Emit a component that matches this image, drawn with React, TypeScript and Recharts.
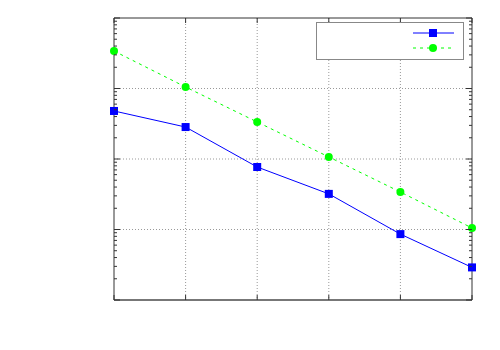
import { LineChart, Line, XAxis, YAxis, CartesianGrid } from "recharts";

const steps = [0, 1, 2, 3, 4, 5];
const seriesA = [480, 284, 77, 32, 8.6, 2.9];
const seriesB = [3400, 1050, 335, 107, 34, 10.5];
const decades = [1, 10, 100, 1000, 10000];

const data = steps.map((s, i) => ({ step: s, a: seriesA[i], b: seriesB[i] }));

const yTicks: number[] = [];
decades.slice(0, -1).forEach((d) => {
  for (let k = 1; k < 10; k++) yTicks.push(d * k);
});
yTicks.push(10000);

const isMajor = (v: number) => decades.includes(v);

const frame = "#333";

function yTick(side: "left" | "right") {
  return (props: any) => {
    const { x, y, payload } = props;
    const len = isMajor(payload.value) ? 6 : 3;
    const dir = side === "left" ? 1 : -1;
    return <line x1={x} y1={y} x2={x + dir * len} y2={y} stroke={frame} />;
  };
}

function xTick(side: "top" | "bottom") {
  return (props: any) => {
    const { x, y } = props;
    const dir = side === "top" ? 1 : -1;
    return <line x1={x} y1={y} x2={x} y2={y + dir * 5} stroke={frame} />;
  };
}

const SquareDot = (props: any) => {
  const { cx, cy } = props;
  if (cx == null || cy == null) return null;
  return <rect x={cx - 4} y={cy - 4} width={8} height={8} fill="#0000ff" />;
};

const CircleDot = (props: any) => {
  const { cx, cy } = props;
  if (cx == null || cy == null) return null;
  return <circle cx={cx} cy={cy} r={4} fill="#00ff00" />;
};

const LegendBox = () => (
  <svg width={148} height={38} style={{ display: "block" }}>
    <rect x={0.5} y={0.5} width={147} height={37} fill="#fff" stroke="#888" />
    <line x1={97} y1={11} x2={138} y2={11} stroke="#0000ff" />
    <rect x={113} y={7} width={8} height={8} fill="#0000ff" />
    <line x1={97} y1={26} x2={137} y2={26} stroke="#00ff00" strokeDasharray="3 4" />
    <circle cx={117} cy={26} r={4} fill="#00ff00" />
  </svg>
);

export default function App() {
  return (
    <div style={{ position: "absolute", left: 0, top: 0, width: 500, height: 350, background: "#fff" }}>
      <LineChart
        width={500}
        height={350}
        data={data}
        margin={{ top: 17, right: 27, bottom: 49, left: 113 }}
      >
        <CartesianGrid
          stroke="#999"
          strokeDasharray="1 2"
          horizontalValues={[10, 100, 1000]}
          verticalValues={[1, 2, 3, 4]}
        />
        <XAxis
          dataKey="step"
          type="number"
          domain={[0, 5]}
          ticks={steps}
          height={1}
          tickSize={0}
          tickMargin={0}
          tick={xTick("bottom")}
          tickLine={false}
          axisLine={{ stroke: "#777", strokeWidth: 2 }}
        />
        <XAxis
          xAxisId="top"
          orientation="top"
          dataKey="step"
          type="number"
          domain={[0, 5]}
          ticks={steps}
          height={1}
          tickSize={0}
          tickMargin={0}
          tick={xTick("top")}
          tickLine={false}
          axisLine={{ stroke: frame }}
        />
        <YAxis
          scale="log"
          domain={[1, 10000]}
          ticks={yTicks}
          allowDataOverflow
          width={1}
          tickSize={0}
          tickMargin={0}
          interval={0}
          tick={yTick("left")}
          tickLine={false}
          axisLine={{ stroke: frame }}
        />
        <YAxis
          yAxisId="right"
          orientation="right"
          scale="log"
          domain={[1, 10000]}
          ticks={yTicks}
          allowDataOverflow
          width={1}
          tickSize={0}
          tickMargin={0}
          interval={0}
          tick={yTick("right")}
          tickLine={false}
          axisLine={{ stroke: frame }}
        />
        <Line
          dataKey="a"
          stroke="#0000ff"
          strokeWidth={1}
          dot={<SquareDot />}
          activeDot={false}
          isAnimationActive={false}
        />
        <Line
          dataKey="b"
          stroke="#00ff00"
          strokeWidth={1}
          strokeDasharray="3 4"
          dot={<CircleDot />}
          activeDot={false}
          isAnimationActive={false}
        />
      </LineChart>
      <div style={{ position: "absolute", left: 316, top: 22 }}>
        <LegendBox />
      </div>
    </div>
  );
}
